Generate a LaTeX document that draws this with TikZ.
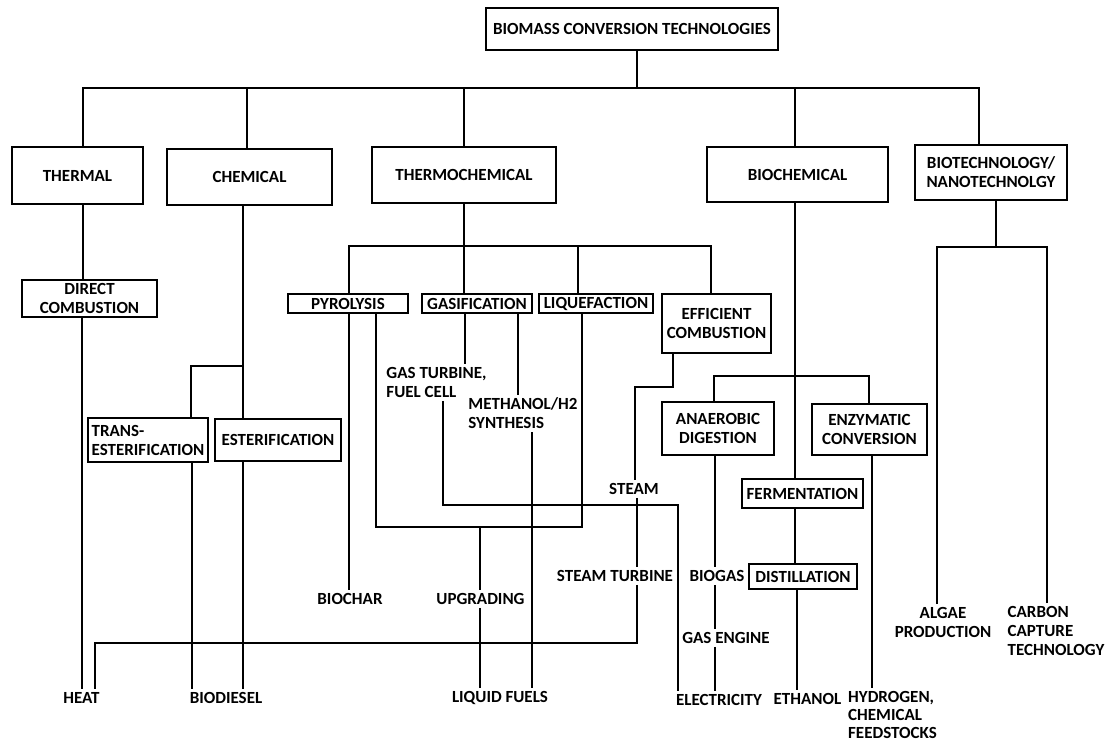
\documentclass[tikz,border=0pt]{standalone}
\usepackage{fontspec}
\setmainfont{Carlito}
\usepackage{tikz}

\begin{document}
\begin{tikzpicture}
	[
	x=1pt, y=-1pt,
	font=\fontsize{17}{19}\selectfont\bfseries,
	box/.style={draw, line width=2.7pt, inner sep=0pt, align=center},
	lbl/.style={inner sep=3pt, align=center},
	wire/.style={line width=2.4pt},
	]
		\useasboundingbox (0,0) rectangle (1109,742);
		
		% root
		\node[box, minimum width=292pt, minimum height=42pt] (bmct) at 		(632.0,  29.0) {BIOMASS CONVERSION TECHNOLOGIES};
		
		% main branches
		\node[box, minimum width=131pt, minimum height=57pt] (thermal) at 		( 77.5, 175.5) {THERMAL};
		\node[box, minimum width=165pt, minimum height=56pt] (chemical) at 		(249.5, 177.0) {CHEMICAL};
		\node[box, minimum width=184pt, minimum height=56pt] (thermochem) at 	(464.0, 175.0) {THERMOCHEMICAL};
		\node[box, minimum width=181pt, minimum height=55pt] (biochem) at 		(797.5, 174.5) {BIOCHEMICAL};
		\node[box, minimum width=152pt, minimum height=55pt] (biotech) at 		(991.0, 172.5) {BIOTECHNOLOGY/\\NANOTECHNOLGY};
		
		% thermal and chemical routes
		\node[box, minimum width=135pt, minimum height=37pt] (dc) at 			( 89.5, 298.5) {DIRECT\\COMBUSTION};
		\node[box, minimum width=120pt, minimum height=44pt, align=left] (trans) at ( 148.0, 440.0) {TRANS-\\ESTERIFICATION};
		\node[box, minimum width=126pt, minimum height=42pt] (ester) at 		(278.0, 440.0) {ESTERIFICATION};
		
		% thermochemical routes
		\node[box, minimum width=120pt, minimum height=19pt] (pyro) at 		(348.0, 303.5) {PYROLYSIS};
		\node[box, minimum width=110pt, minimum height=19pt] (gasif) at 		(477.0, 303.5) {GASIFICATION};
		\node[box, minimum width=114pt, minimum height=19pt] (liq) at 			(596.0, 303.5) {LIQUEFACTION};
		\node[box, minimum width=109pt, minimum height=59pt] (effcomb) at 		(716.5, 323.5) {EFFICIENT\\COMBUSTION};
		\node[lbl, align=left] (gtfc) at 										(436.5, 382.5) {GAS TURBINE,\\FUEL CELL};
		\node[lbl, align=left] (meth) at 										(523.0, 413.5) {METHANOL/H2\\SYNTHESIS};
		\node[lbl] (steam) at 													(634.0, 489.0) {STEAM};
		\node[lbl] (stturb) at 													(615.0, 576.0) {STEAM TURBINE};
		\node[lbl] (biochar) at 												(350.0, 599.0) {BIOCHAR};
		\node[lbl] (upgr) at 													(480.5, 599.0) {UPGRADING};
		
		% biochemical routes
		\node[box, minimum width=112pt, minimum height=53pt] (ad) at 			(718.0, 428.5) {ANAEROBIC\\DIGESTION};
		\node[box, minimum width=115pt, minimum height=51pt] (enz) at 			(869.5, 429.5) {ENZYMATIC\\CONVERSION};
		\node[box, minimum width=121pt, minimum height=29pt] (ferm) at 		(802.5, 493.5) {FERMENTATION};
		\node[box, minimum width=108pt, minimum height=25pt] (dist) at 		(803.0, 576.5) {DISTILLATION};
		\node[lbl] (biogas) at 													(717.0, 576.0) {BIOGAS};
		\node[lbl] (gaseng) at 													(726.0, 638.0) {GAS ENGINE};
		
		% products
		\node[lbl] (heat) at 													( 81.5, 698.0) {HEAT};
		\node[lbl] (biodiesel) at 												(226.0, 698.0) {BIODIESEL};
		\node[lbl] (liqf) at 													(500.0, 698.0) {LIQUID FUELS};
		\node[lbl] (elec) at 													(719.0, 700.0) {ELECTRICITY};
		\node[lbl] (ethanol) at 												(807.5, 699.0) {ETHANOL};
		\node[lbl, align=left, font=\fontsize{17}{18}\selectfont\bfseries] (hydro) at (892.5, 715.0) {HYDROGEN,\\CHEMICAL\\FEEDSTOCKS};
		\node[lbl] (algae) at 													(943.0, 622.5) {ALGAE\\PRODUCTION};
		\node[lbl, align=left] (carbon) at 										(1056.0, 631.0) {CARBON\\CAPTURE\\TECHNOLOGY};
		
		% junctions
		\coordinate (topbus) at 		(637, 88);
		\coordinate (tcbus) at 		(464, 246);
		\coordinate (chbus) at 		(243, 366);
		\coordinate (bcbus) at 		(795, 376);
		\coordinate (btbus) at 		(996, 247);
		\coordinate (liqjoin) at 		(480, 527);
		\coordinate (fcturn) at 		(678, 505);
		\coordinate (ecturn) at 		(635, 387);
		\coordinate (heatturn) at 	(95, 643);
		
		\draw[wire] (bmct.south -| topbus) -- (topbus);
		\foreach \n/\dx in {thermal/5.5,chemical/-2.5,thermochem/0,biochem/-2.5,biotech/-12} \draw[wire] ([xshift=\dx]\n.north) |- (topbus);
		
		\draw[wire] (thermochem.south) -- (tcbus);
		\foreach \n/\dx in {pyro/1,gasif/-13,liq/-18,effcomb/-5.5} \draw[wire] ([xshift=\dx]\n.north) |- (tcbus);
		
		\draw[wire] ([xshift=-6.5]chemical.south) -- ([xshift=-35]ester.north);
		\draw[wire] ([xshift=43]trans.north) |- (chbus);
		
		\draw[wire] ([xshift=-2.5]biochem.south) -- ([xshift=-7.5]ferm.north);
		\foreach \n/\dx in {ad/-4,enz/-0.5} \draw[wire] ([xshift=\dx]\n.north) |- (bcbus);
		
		\draw[wire] ([xshift=5]biotech.south) -- (btbus);
		\foreach \n/\dx in {algae/-6,carbon/-9} \draw[wire] ([xshift=\dx]\n.north) |- (btbus);
		
		% thermal and chemical
		\draw[wire] ([xshift=5.5]thermal.south) -- ([xshift=-6.5]dc.north);
		\draw[wire] ([xshift=-7.5]dc.south) -- ([xshift=0.5]heat.north);
		\draw[wire] ([xshift=44]trans.south) -- ([xshift=-34]biodiesel.north);
		\draw[wire] ([xshift=-35]ester.south) -- ([xshift=17]biodiesel.north);
		
		% thermochemical
		\draw[wire] ([xshift=1]pyro.south) -- ([xshift=-1]biochar.north);
		\draw[wire] ([xshift=28]pyro.south) |- (liqjoin) -| ([xshift=-14]liq.south);
		\draw[wire] (liqjoin) -- ([xshift=-0.5]upgr.north);
		\draw[wire] ([xshift=-0.5]upgr.south) -- ([xshift=-20]liqf.north);
		\draw[wire] ([xshift=-12]gasif.south) -- ([xshift=28.5]gtfc.north);
		\draw[wire] ([xshift=41]gasif.south) -- ([xshift=-5]meth.north);
		\draw[wire] ([xshift=6.5]gtfc.south) |- (fcturn) -- ([xshift=-41]elec.north);
		\draw[wire] ([xshift=9]meth.south) -- ([xshift=32]liqf.north);
		\draw[wire] ([xshift=-43.5]effcomb.south) |- (ecturn) -- ([xshift=1]steam.north);
		\draw[wire] ([xshift=3]steam.south) -- ([xshift=22]stturb.north);
		\draw[wire] ([xshift=22]stturb.south) |- (heatturn) -- ([xshift=13.5]heat.north);
		
		% biochemical
		\draw[wire] ([xshift=-3]ad.south) -- ([xshift=-2]biogas.north);
		\draw[wire] ([xshift=-2]biogas.south) -- ([xshift=-11]gaseng.north);
		\draw[wire] ([xshift=-11]gaseng.south) -- ([xshift=-4]elec.north);
		\draw[wire] ([xshift=2.5]enz.south) -- ([xshift=-20.5]hydro.north);
		\draw[wire] ([xshift=-7.5]ferm.south) -- ([xshift=-8]dist.north);
		\draw[wire] ([xshift=-6]dist.south) -- ([xshift=-10.5]ethanol.north);
		
	\end{tikzpicture}
\end{document}
